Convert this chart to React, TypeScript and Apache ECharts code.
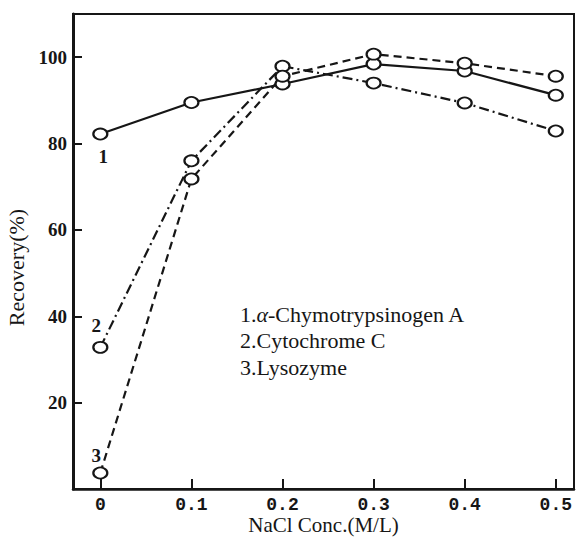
import React, { useEffect, useRef } from "react";
import * as echarts from "echarts";

// NaCl concentration (M/L) on the x axis
const nacl = [0, 0.1, 0.2, 0.3, 0.4, 0.5];
// Recovery (%) for each protein
const chymotrypsinogen = [82.2, 89.5, 93.8, 98.4, 96.8, 91.2];
const cytochrome = [32.8, 76, 97.9, 94, 89.4, 82.9];
const lysozyme = [3.7, 71.8, 95.6, 100.7, 98.6, 95.6];

const xTicks = [0, 0.1, 0.2, 0.3, 0.4, 0.5];
const yTicks = [20, 40, 60, 80, 100];

const seriesNames = ["1", "2", "3"];
const legendLines = ["1.{a|α}-Chymotrypsinogen A", "2.Cytochrome C", "3.Lysozyme"];

const INK = "#161616";
const SERIF = "'Liberation Serif', 'Times New Roman', serif";

const W = 579;
const H = 537;

export default function App() {
  const ref = useRef<HTMLDivElement>(null);

  useEffect(() => {
    document.body.style.margin = "0";
    document.documentElement.style.overflow = "hidden";
    if (!ref.current) return;
    const chart = echarts.init(ref.current, null, { renderer: "svg", width: W, height: H });

    const pts = (ys: number[]) => nacl.map((x, i) => [x, ys[i]]);

    const makeSeries = (
      name: string,
      ys: number[],
      lineType: any,
      labelOffset: number[],
      labelPos: string
    ) => {
      const data: any[] = pts(ys);
      data[0] = {
        value: data[0],
        label: {
          show: true,
          formatter: name,
          position: labelPos,
          offset: labelOffset,
          fontFamily: SERIF,
          fontWeight: "bold",
          fontSize: 19,
          color: INK,
        },
      };
      return {
        type: "line",
        name,
        data,
        symbol: "circle",
        symbolSize: [14, 11],
        itemStyle: { color: "#fff", borderColor: INK, borderWidth: 2 },
        lineStyle: { color: INK, width: 2.2, type: lineType },
        z: 3,
      };
    };

    chart.setOption({
      animation: false,
      backgroundColor: "#fff",
      grid: {
        left: 73,
        right: 5,
        top: 14,
        bottom: 48,
        outerBoundsMode: "none",
        containLabel: false,
        show: true,
        borderColor: INK,
        borderWidth: 2,
        backgroundColor: "transparent",
      },
      xAxis: {
        type: "value",
        min: -0.03,
        max: 0.52,
        name: "NaCl Conc.(M/L)",
        nameLocation: "middle",
        nameGap: 26,
        nameMoveOverlap: false,
        nameTextStyle: { fontFamily: SERIF, fontSize: 21, lineHeight: 20, color: INK },
        axisLine: { show: true, onZero: false, lineStyle: { color: INK, width: 2.5 } },
        axisTick: {
          show: true,
          inside: true,
          length: 10,
          customValues: xTicks,
          lineStyle: { color: INK, width: 2 },
        },
        axisLabel: {
          customValues: xTicks,
          formatter: (v: number) => (v === 0 ? "0" : v.toFixed(1)),
          fontFamily: "'Liberation Mono', monospace",
          fontWeight: "bold",
          fontSize: 18,
          lineHeight: 17,
          color: INK,
          margin: 7,
        },
        splitLine: { show: false },
      },
      yAxis: {
        type: "value",
        min: 0,
        max: 110,
        name: "Recovery(%)",
        nameLocation: "middle",
        nameGap: 42,
        nameRotate: 90,
        nameTextStyle: {
          fontFamily: SERIF,
          fontSize: 22,
          color: INK,
          padding: [0, 32, 0, 0],
        },
        axisLine: { show: true, onZero: false, lineStyle: { color: INK, width: 3 } },
        axisTick: {
          show: true,
          inside: true,
          length: 9,
          customValues: yTicks,
          lineStyle: { color: INK, width: 2 },
        },
        axisLabel: {
          customValues: yTicks,
          fontFamily: SERIF,
          fontWeight: "bold",
          fontSize: 19,
          color: INK,
          margin: 6,
        },
        splitLine: { show: false },
      },
      series: [
        makeSeries(seriesNames[0], chymotrypsinogen, "solid", [3, 2], "bottom"),
        makeSeries(seriesNames[1], cytochrome, [10, 4, 2, 4], [-4, -1], "top"),
        makeSeries(seriesNames[2], lysozyme, [8, 5], [-4, 3], "top"),
      ],
      graphic: [
        {
          type: "text",
          left: 240,
          top: 301,
          style: {
            text: legendLines.join("\n"),
            fontFamily: SERIF,
            fontSize: 22,
            lineHeight: 26.5,
            fill: INK,
            rich: {
              a: { fontFamily: SERIF, fontStyle: "italic", fontSize: 22, fill: INK },
            },
          },
        },
      ],
    });

    return () => chart.dispose();
  }, []);

  return <div ref={ref} style={{ width: W, height: H }} />;
}
